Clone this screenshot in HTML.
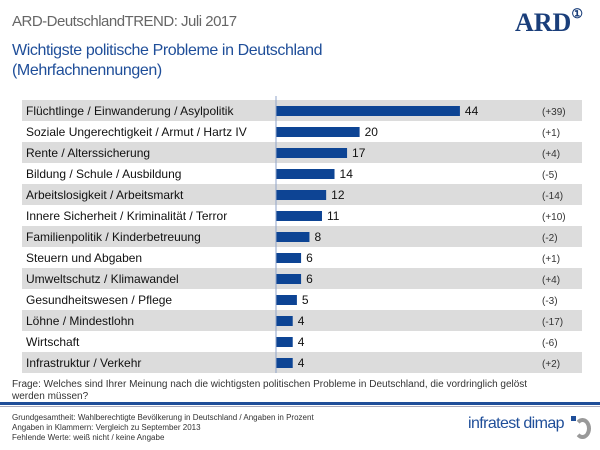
<!DOCTYPE html>
<html><head><meta charset="utf-8"><style>
body{margin:0;width:600px;height:450px;background:#fff;font-family:"Liberation Sans",sans-serif;position:relative;overflow:hidden}
.a{position:absolute;white-space:nowrap}
</style></head><body>
<div class="a" style="left:12px;top:13px;font-size:15px;letter-spacing:-0.5px;color:#666">ARD-DeutschlandTREND: Juli 2017</div>
<div class="a" style="left:515px;top:8px;font-family:'Liberation Serif',serif;font-weight:bold;font-size:26px;color:#1a3e7a">ARD<span style="font-size:13px;vertical-align:top;position:relative;top:-2px">&#9312;</span></div>
<div class="a" style="left:12px;top:41px;font-size:16px;letter-spacing:-0.4px;color:#1f4e99;line-height:20px">Wichtigste politische Probleme in Deutschland<br>(Mehrfachnennungen)</div>
<svg class="a" style="left:0;top:0" width="600" height="450"><g id="g"></g></svg>
<div class="a" style="left:12px;top:379px;font-size:10px;color:#333;line-height:12px">Frage: Welches sind Ihrer Meinung nach die wichtigsten politischen Probleme in Deutschland, die vordringlich gelöst<br>werden müssen?</div>
<div class="a" style="left:0;top:402px;width:600px;height:3px;background:#1f4e99"></div>
<div class="a" style="left:0;top:406px;width:600px;height:1px;background:#aab"></div>
<div class="a" style="left:12px;top:413px;font-size:8px;color:#333;line-height:10px">Grundgesamtheit: Wahlberechtigte Bevölkerung in Deutschland / Angaben in Prozent<br>Angaben in Klammern: Vergleich zu September 2013<br>Fehlende Werte: weiß nicht / keine Angabe</div>
<div class="a" style="left:468px;top:415px;font-size:16px;letter-spacing:-0.6px;color:#1f4e99">infratest dimap</div>
<div class="a" style="left:574px;top:418px;width:17px;height:21px;border:4px solid #999;border-left-color:transparent;border-radius:50%;box-sizing:border-box"></div>
<div class="a" style="left:571px;top:416px;width:5px;height:5px;background:#1f4e99"></div>
<script>
const categories=["Flüchtlinge / Einwanderung / Asylpolitik","Soziale Ungerechtigkeit / Armut / Hartz IV","Rente / Alterssicherung","Bildung / Schule / Ausbildung","Arbeitslosigkeit / Arbeitsmarkt","Innere Sicherheit / Kriminalität / Terror","Familienpolitik / Kinderbetreuung","Steuern und Abgaben","Umweltschutz / Klimawandel","Gesundheitswesen / Pflege","Löhne / Mindestlohn","Wirtschaft","Infrastruktur / Verkehr"];
const values=[44,20,17,14,12,11,8,6,6,5,4,4,4];
const changes=["(+39)","(+1)","(+4)","(-5)","(-14)","(+10)","(-2)","(+1)","(+4)","(-3)","(-17)","(-6)","(+2)"];
const ns="http://www.w3.org/2000/svg",g=document.getElementById('g');
const x0=276,sc=4.18,y0=100,rh=21;
const xs=v=>x0+v*sc, ys=i=>y0+i*rh;
function mk(t,at){const e=document.createElementNS(ns,t);for(const k in at)e.setAttribute(k,at[k]);g.appendChild(e);return e;}
categories.forEach((c,i)=>{
 if(i%2==0){const r=mk('rect',{x:22,y:ys(i),width:560,height:rh,fill:'#dcdcdc'});
 
 }
 const l=mk('text',{x:26,y:ys(i)+15,'font-size':12,fill:'#111'});l.textContent=c;
 
 
 const b=mk('rect',{x:x0,y:ys(i)+6,width:xs(values[i])-x0,height:10,fill:'#0d4494'});
 
 
 const v=mk('text',{x:xs(values[i])+5,y:ys(i)+15,'font-size':12,fill:'#111'});v.textContent=values[i];
 
 
 const d=mk('text',{x:542,y:ys(i)+15,'font-size':10,fill:'#333'});d.textContent=changes[i];
 
 
});
const ax=mk('line',{x1:x0,x2:x0,y1:y0-4,y2:ys(categories.length),stroke:'#8fa3c8','stroke-width':1});


</script>
</body></html>
